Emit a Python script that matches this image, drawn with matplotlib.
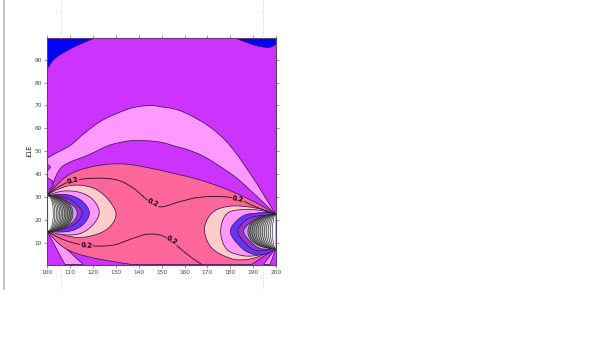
import numpy as np
import matplotlib
matplotlib.use("Agg")
import matplotlib.pyplot as plt
from matplotlib.lines import Line2D

# --- values: contour boundaries in data units ---
blue_tl_x = [100, 103.4, 110, 115.8, 120.8]
blue_tl_y = [86.2, 90.6, 94.7, 97.4, 99.5]
blue_tr_x = [182, 186, 190, 193, 196, 198, 200]
blue_tr_y = [99.5, 98, 96.6, 95.8, 95.4, 95.6, 96.8]

band_top_x = [100, 104, 110, 115.8, 123, 130.4, 137.7, 145, 149.3, 156.6, 163.9, 171, 177, 181.4, 185.6, 191.5, 195.9, 200]
band_top_y = [47, 49.3, 52.5, 57.5, 62.9, 66.5, 69.1, 70, 69.5, 68.2, 65, 60.7, 55.6, 50.6, 44.8, 36, 28.8, 22.3]
band_low_x = [100, 102, 103.5, 106, 110, 115.8, 120.8, 127, 134.8, 140.6, 149.3, 156.6, 161.6, 168.3, 175.5, 182.8, 190, 200]
band_low_y = [31.5, 34.5, 38.5, 42.8, 45.3, 47.5, 49.7, 52.6, 54.4, 54.7, 54, 52, 50.6, 47.8, 43.4, 38.3, 31.8, 22.3]

pink_top_x = [100, 105.5, 110, 115.8, 123, 130.3, 137.6, 149.3, 156.6, 163.9, 171.2, 178.4, 185.7, 193, 200]
pink_top_y = [31, 36.6, 40, 42.3, 43.9, 44.5, 44, 41.7, 40, 38.3, 36, 33.4, 30.2, 26.6, 22.3]
pink_low_l_x = [100, 105.5, 111.4, 120, 130, 137]
pink_low_l_y = [15, 9.2, 5.8, 3.4, 1.6, 0.5]
pink_low_r_x = [189.4, 194, 200]
pink_low_r_y = [0.5, 3.6, 7.6]

wedge_l_x = [100, 107.7, 115.7]
wedge_l_y = [15, 0.5, 0.5]
wedge_r_x = [194.5, 197.4, 200]
wedge_r_y = [0.5, 0.5, 7.6]
bump_a_x = [100, 101.5, 100]
bump_a_y = [44.5, 43, 41.5]
bump_b_x = [100, 102.3, 102.5, 100]
bump_b_y = [38.5, 37, 34.5, 33]

# nested lobes on the left edge
pale_l_x = [100, 105, 110, 115.8, 121.6, 126.7, 130, 128.2, 123, 115.8, 110, 104, 100]
pale_l_y = [31, 33.5, 35, 35, 33.2, 28.8, 23, 17.9, 14.2, 12.4, 12.7, 14.2, 15]
lm_l_x = [100, 107, 114.3, 120, 122.7, 120, 114.3, 107, 100]
lm_l_y = [30.8, 32.6, 32, 28.8, 23.3, 17.9, 14, 13.5, 15]
blue_l_x = [100, 106, 111.4, 116, 118.4, 116, 111.4, 106, 100]
blue_l_y = [30.6, 31.2, 30.3, 27.5, 23, 18.3, 15.5, 14.7, 15]
dark_l_x = [100, 105, 110, 113.5, 115.3, 113.5, 110, 105, 100]
dark_l_y = [30.4, 30.4, 28.7, 26, 23, 19.5, 17, 15.5, 15]
lav_l_x = [100, 104, 109, 112, 113.1, 112, 109, 104, 100]
lav_l_y = [30.2, 29.8, 27.8, 25.5, 23, 20, 17.5, 15.5, 15]

# nested lobes on the right edge
pale_r_x = [200, 194.5, 187, 180, 174, 170.4, 168.7, 170.4, 174, 180, 184.3, 190, 195.8, 200]
pale_r_y = [22.3, 24.4, 25.8, 26, 24.4, 21, 15.7, 9.8, 6, 3.2, 2.5, 3.2, 5.4, 7.6]
lm_r_x = [200, 194, 187, 180, 177, 175.8, 177, 180, 187, 194, 200]
lm_r_y = [22.3, 24, 24.6, 23.6, 20.5, 15, 9.5, 6, 4.2, 5, 7.6]
blue_r_x = [200, 198, 190.9, 185, 180, 185, 190.9, 196.7, 200]
blue_r_y = [22.3, 23.2, 22.9, 21.4, 15, 7.7, 4.8, 5.5, 7.6]
dark_r_x = [200, 192, 187, 183.3, 187, 192, 200]
dark_r_y = [22.4, 21.7, 20, 15, 9.4, 6.5, 7.6]
lav_r_x = [200, 193.8, 189.4, 185.8, 189.4, 193.8, 200]
lav_r_y = [22.2, 21.2, 19.3, 15, 9.9, 7.3, 7.6]

# grey rings: reach from the edge, from outermost inwards
rings_l_reach = [11.2, 10.4, 9.6, 8.9, 8.2, 7.5, 6.8, 6.1, 5.4, 4.7, 4.0, 3.3, 2.6]
rings_r_reach = [12.3, 11.4, 10.5, 9.6, 8.7, 7.8, 6.9, 6.0, 5.1, 4.2, 3.3, 2.4, 1.5]
ring_u = [0, 0.3, 0.6, 0.85, 0.97, 1, 0.97, 0.85, 0.6, 0.3, 0]
ring_v = [1, 0.98, 0.85, 0.58, 0.28, 0, -0.28, -0.58, -0.85, -0.98, -1]

# 0.2 contour lines
c_top_x = [100, 102.6, 110, 120, 130.3, 137.6, 143.4, 149.3, 156.6, 164, 171, 178.5, 184.3, 190, 200]
c_top_y = [30.6, 33, 36.8, 38.2, 37.5, 33.9, 29, 25.7, 27.6, 29.5, 30.2, 30, 28.8, 26.2, 22.2]
c_low_x = [100, 105.5, 113, 120, 128.9, 137.6, 143.4, 149.3, 153.7, 158, 162.4, 167.5]
c_low_y = [15, 12, 9.5, 8.6, 9, 12, 13.7, 13.4, 11.2, 7.6, 4, 0.5]
label_x = [111.2, 146.3, 183.3, 117, 154.6]
label_y = [37, 27.5, 29, 9, 11]
label_rot = [15, -25, -10, -5, -30]
label_txt = ["0.2", "0.2", "0.2", "0.2", "0.2"]

x_ticks = list(range(100, 201, 10))
y_ticks = list(range(10, 91, 10))
y_title = "£1E"


def smooth(xs, ys, n=12):
    p = np.column_stack([xs, ys]).astype(float)
    if len(p) < 3:
        return p[:, 0], p[:, 1]
    q = np.vstack([2 * p[0] - p[1], p, 2 * p[-1] - p[-2]])
    out = []
    for i in range(1, len(q) - 2):
        a, b, c, d = q[i - 1], q[i], q[i + 1], q[i + 2]
        for t in np.linspace(0, 1, n, endpoint=False):
            out.append(0.5 * (2 * b + (c - a) * t + (2 * a - 5 * b + 4 * c - d) * t**2
                              + (3 * b - a - 3 * c + d) * t**3))
    out.append(p[-1])
    out = np.array(out)
    return out[:, 0], out[:, 1]


W, H = 600, 337
fig = plt.figure(figsize=(W / 100, H / 100), dpi=100)
L, R, T, B = 47.3, 276, 38, 264.5
ax = fig.add_axes([L / W, 1 - B / H, (R - L) / W, (B - T) / H])
ax.set_xlim(100, 200)
ax.set_ylim(0.5, 99.5)
ax.set_facecolor("#cc33ff")

EDGE = "#3a1850"
LW = 0.55
C_BLUE, C_PUR, C_LM, C_PINK, C_PALE = "#0000ff", "#cc33ff", "#ff99ff", "#ff6699", "#ffcccc"
C_B2, C_DARK, C_LAV = "#6633ff", "#9933cc", "#cc99ff"


def poly(x, y, color, z=1):
    ax.fill(x, y, facecolor=color, edgecolor=EDGE, linewidth=LW, zorder=z, clip_on=True)


def curve_poly(xs, ys, color, z=1):
    x, y = smooth(xs, ys)
    poly(x, y, color, z)


# blue corners
x, y = smooth(blue_tl_x, blue_tl_y)
poly(np.r_[x, 100], np.r_[y, 100], C_BLUE)
x, y = smooth(blue_tr_x, blue_tr_y)
poly(np.r_[x, 200], np.r_[y, 100], C_BLUE)

# light band
x1, y1 = smooth(band_top_x, band_top_y)
x2, y2 = smooth(band_low_x, band_low_y)
poly(np.r_[x1, x2[::-1]], np.r_[y1, y2[::-1]], C_LM, 2)
poly(bump_a_x, bump_a_y, C_PUR, 3)
poly(bump_b_x, bump_b_y, C_PUR, 3)

# bottom wedges
poly(wedge_l_x, wedge_l_y, C_LM, 2)
poly(wedge_r_x, wedge_r_y, C_LM, 2)

# main pink region
xt, yt = smooth(pink_top_x, pink_top_y)
xr, yr = smooth(pink_low_r_x, pink_low_r_y)
xl, yl = smooth(pink_low_l_x, pink_low_l_y)
poly(np.r_[xt, xr[::-1], xl[::-1]], np.r_[yt, yr[::-1], yl[::-1]], C_PINK, 3)

# lobes
for i, (xs, ys, c) in enumerate([(pale_l_x, pale_l_y, C_PALE), (lm_l_x, lm_l_y, C_LM),
                                 (blue_l_x, blue_l_y, C_B2), (dark_l_x, dark_l_y, C_DARK),
                                 (lav_l_x, lav_l_y, C_LAV),
                                 (pale_r_x, pale_r_y, C_PALE), (lm_r_x, lm_r_y, C_LM),
                                 (blue_r_x, blue_r_y, C_B2), (dark_r_x, dark_r_y, C_DARK),
                                 (lav_r_x, lav_r_y, C_LAV)]):
    curve_poly(xs, ys, c, 4 + i % 5)

# grey rings
for reach, edge, centre, half, sign in [(rings_l_reach, 100, 22.8, 7.6, 1), (rings_r_reach, 200, 14.9, 7.3, -1)]:
    greys = np.linspace(0.5, 0.97, len(reach))
    for k, r in enumerate(reach):
        xs = [edge + sign * r * u for u in ring_u]
        ys = [centre + half * v for v in ring_v]
        x, y = smooth(xs, ys)
        ax.fill(x, y, facecolor=str(greys[k]), edgecolor="#202020", linewidth=0.4, zorder=10 + k)

# 0.2 contours
ax.plot(*smooth(c_top_x, c_top_y), color="#201020", lw=0.6, zorder=30)
ax.plot(*smooth(c_low_x, c_low_y), color="#201020", lw=0.6, zorder=30)
for lx, ly, lr, lt in zip(label_x, label_y, label_rot, label_txt):
    ax.text(lx, ly, lt, fontsize=4.8, fontweight="bold", color="black", ha="center", va="center",
            rotation=lr, zorder=31,
            bbox=dict(facecolor=C_PINK, edgecolor="none", pad=0.2))

# axes
for s in ax.spines.values():
    s.set_linewidth(0.8)
    s.set_color("#604070")
    s.set_zorder(40)
ax.set_xticks(x_ticks)
ax.set_yticks(y_ticks)
ax.tick_params(axis="both", which="major", length=2.5, width=0.4, color="#505050",
               labelsize=4.2, labelcolor="#484848", pad=1.5,
               top=True, right=True, bottom=True, left=True)
ax.set_ylabel(y_title, fontsize=4.8, color="#202020", labelpad=1.5)

# page furniture around the chart
fig.add_artist(Line2D([4 / W, 4 / W], [1, 1 - 289 / H], color="#bcbcbc", lw=1.3, transform=fig.transFigure))
for px in (61.5, 262.5):
    for p0, p1 in ((0, 38), (265, 289)):
        fig.add_artist(Line2D([px / W, px / W], [1 - p0 / H, 1 - p1 / H], color="#cccccc", lw=0.5,
                              ls=(0, (1.5, 1.5)), transform=fig.transFigure))

fig.savefig("out.png", dpi=100, facecolor="white")
